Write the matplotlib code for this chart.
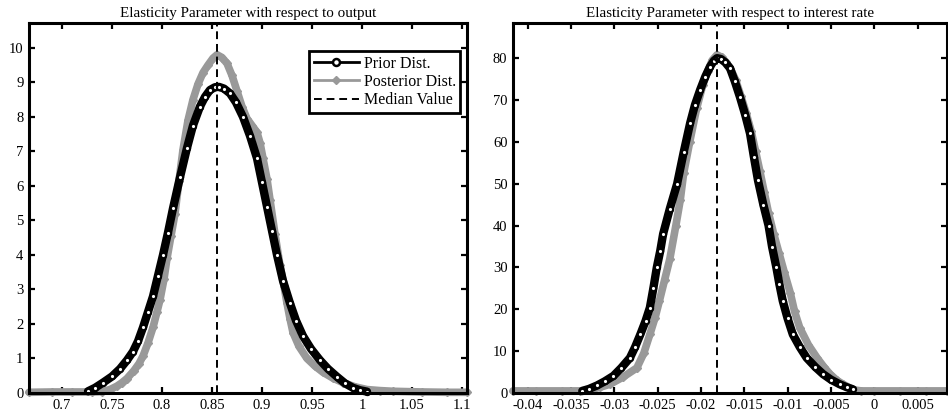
import matplotlib
matplotlib.use("Agg")
import matplotlib.pyplot as plt
from matplotlib.ticker import FixedLocator, FixedFormatter

plt.rcParams['font.family'] = ['Liberation Serif', 'DejaVu Serif']

# ---------------- data ----------------
titles = ["Elasticity Parameter with respect to output",
          "Elasticity Parameter with respect to interest rate"]

# Left panel: output elasticity
out_prior_x = [0.726, 0.733, 0.741, 0.750, 0.758, 0.765, 0.771, 0.776, 0.781, 0.786,
               0.791, 0.796, 0.801, 0.806, 0.811, 0.818, 0.825, 0.831, 0.838, 0.843,
               0.848, 0.853, 0.857, 0.862, 0.868, 0.874, 0.881, 0.888, 0.895, 0.900,
               0.905, 0.910, 0.915, 0.921, 0.928, 0.934, 0.941, 0.949, 0.958, 0.966,
               0.975, 0.983, 0.991, 0.998, 1.005]
out_prior_y = [0.05, 0.15, 0.30, 0.48, 0.70, 0.95, 1.20, 1.50, 1.90, 2.35,
               2.80, 3.40, 4.00, 4.65, 5.35, 6.25, 7.10, 7.75, 8.30, 8.58,
               8.78, 8.86, 8.87, 8.82, 8.68, 8.42, 8.00, 7.45, 6.80, 6.10,
               5.40, 4.70, 4.00, 3.25, 2.60, 2.10, 1.65, 1.28, 0.95, 0.70,
               0.47, 0.28, 0.15, 0.08, 0.04]

out_post_x = [0.667, 0.690, 0.710, 0.730, 0.740, 0.748, 0.755, 0.760, 0.765, 0.772,
              0.777, 0.781, 0.786, 0.791, 0.795, 0.798, 0.802, 0.805, 0.809, 0.813,
              0.817, 0.821, 0.826, 0.831, 0.836, 0.841, 0.846, 0.851, 0.855, 0.860,
              0.865, 0.870, 0.875, 0.880, 0.885, 0.890, 0.895, 0.898, 0.901, 0.905,
              0.908, 0.913, 0.918, 0.922, 0.925, 0.928, 0.931, 0.937, 0.945, 0.953,
              0.961, 0.971, 0.981, 0.993, 1.005, 1.018, 1.031, 1.060, 1.085, 1.105]
out_post_y = [0.02, 0.03, 0.03, 0.03, 0.04, 0.10, 0.20, 0.30, 0.42, 0.65,
              0.85, 1.07, 1.45, 1.90, 2.35, 2.70, 3.30, 3.90, 4.55, 5.20,
              6.15, 7.05, 7.90, 8.50, 8.95, 9.28, 9.50, 9.70, 9.80, 9.72,
              9.55, 9.20, 8.75, 8.30, 7.95, 7.75, 7.55, 7.25, 6.80, 6.20,
              5.60, 4.60, 3.70, 3.10, 2.60, 2.15, 1.75, 1.35, 1.00, 0.78,
              0.60, 0.43, 0.30, 0.18, 0.10, 0.07, 0.05, 0.03, 0.02, 0.02]
out_median = 0.855

# Right panel: interest rate elasticity
ir_prior_x = [-0.0337, -0.0329, -0.0320, -0.0311, -0.0301, -0.0292, -0.0282, -0.0276,
              -0.0270, -0.0264, -0.0259, -0.0255, -0.0251, -0.0247, -0.02437, -0.0236,
              -0.02275, -0.0220, -0.02125, -0.0207, -0.0201, -0.0195, -0.01895, -0.0185,
              -0.01815, -0.0177, -0.0172, -0.01665, -0.0161, -0.0155, -0.0149, -0.01434,
              -0.0139, -0.01342, -0.0128, -0.0122, -0.0118, -0.0113, -0.01095, -0.01056,
              -0.0100, -0.0094, -0.0086, -0.0078, -0.0068, -0.0059, -0.0050, -0.0040,
              -0.0032, -0.0025]
ir_prior_y = [0.5, 1.0, 1.8, 2.8, 4.1, 6.0, 8.4, 11.0,
              14.0, 17.2, 20.4, 25.0, 30.0, 34.0, 38.0, 44.0,
              50.0, 57.5, 64.5, 68.8, 72.4, 75.6, 78.0, 79.4,
              80.0, 79.8, 79.0, 77.6, 74.5, 70.7, 66.5, 62.0,
              56.5, 50.8, 45.0, 40.0, 35.0, 30.0, 26.0, 22.0,
              17.8, 14.0, 11.0, 8.4, 6.2, 4.5, 3.2, 2.1,
              1.4, 0.9]

ir_post_x = [-0.0417, -0.0390, -0.0360, -0.0340, -0.0327, -0.0316, -0.0305, -0.0290,
             -0.0274, -0.0266, -0.0259, -0.0253, -0.0248, -0.0242, -0.0236, -0.0229,
             -0.0224, -0.0220, -0.0213, -0.0205, -0.0198, -0.0192, -0.0187, -0.01815,
             -0.0176, -0.0171, -0.0166, -0.0160, -0.0154, -0.0148, -0.0142, -0.0137,
             -0.0132, -0.0127, -0.0122, -0.0116, -0.0110, -0.0104, -0.0097, -0.0092,
             -0.0086, -0.0076, -0.0066, -0.0058, -0.0051, -0.0043, -0.0036, -0.0029,
             -0.0022, -0.0015, 0.0000, 0.0030, 0.0060, 0.0084]
ir_post_y = [0.5, 0.5, 0.5, 0.5, 0.8, 1.4, 2.1, 3.8,
             6.0, 9.5, 14.0, 18.0, 22.0, 27.0, 32.0, 40.0,
             46.0, 52.5, 60.0, 68.0, 73.5, 77.0, 79.5, 80.8,
             80.2, 79.0, 77.5, 74.8, 71.0, 67.0, 62.5, 57.8,
             53.0, 48.0, 43.0, 38.0, 33.5, 29.0, 24.0, 19.5,
             15.6, 11.5, 8.4, 6.2, 4.5, 3.0, 2.1, 1.3,
             0.7, 0.5, 0.5, 0.5, 0.5, 0.5]
ir_median = -0.0181

out_xticks = [0.7, 0.75, 0.8, 0.85, 0.9, 0.95, 1.0, 1.05, 1.1]
out_xlabels = ["0.7", "0.75", "0.8", "0.85", "0.9", "0.95", "1", "1.05", "1.1"]
out_yticks = [0, 1, 2, 3, 4, 5, 6, 7, 8, 9, 10]
out_ylabels = ["0", "1", "2", "3", "4", "5", "6", "7", "8", "9", "10"]

ir_xticks = [-0.04, -0.035, -0.03, -0.025, -0.02, -0.015, -0.01, -0.005, 0.0, 0.005]
ir_xlabels = ["-0.04", "-0.035", "-0.03", "-0.025", "-0.02", "-0.015",
              "-0.01", "-0.005", "0", "0.005"]
ir_yticks = [0, 10, 20, 30, 40, 50, 60, 70, 80]
ir_ylabels = ["0", "10", "20", "30", "40", "50", "60", "70", "80"]

legend_labels = ["Prior Dist.", "Posterior Dist.", "Median Value"]

# ---------------- figure ----------------
W, H = 948, 419
fig = plt.figure(figsize=(W / 100, H / 100), dpi=100)

def px_axes(x0, x1, ytop, ybot):
    return fig.add_axes([x0 / W, (H - ybot) / H, (x1 - x0) / W, (ybot - ytop) / H])

ax1 = px_axes(29, 467, 23, 393)
ax2 = px_axes(513, 947, 23, 393)

GRAY = '#999999'
FS = 10.5

def draw(ax, px, py, qx, qy, med, xlim, ylim, xt, xl, yt, yl, title, legend=False):
    ax.plot(qx, qy, color=GRAY, lw=5.5, marker='D', ms=4.5, mfc=GRAY,
            mec=GRAY, clip_on=False, zorder=2, solid_joinstyle='round',
            solid_capstyle='round')
    ax.plot(px, py, color='black', lw=6, marker='o', ms=3.8, mfc='white',
            mec='black', mew=1.5, clip_on=False, zorder=3,
            solid_joinstyle='round', solid_capstyle='round')
    ax.axvline(med, color='black', lw=1.4, ls=(0, (4, 2.5)), zorder=4)
    ax.set_xlim(*xlim)
    ax.set_ylim(*ylim)
    ax.xaxis.set_major_locator(FixedLocator(xt))
    ax.xaxis.set_major_formatter(FixedFormatter(xl))
    ax.yaxis.set_major_locator(FixedLocator(yt))
    ax.yaxis.set_major_formatter(FixedFormatter(yl))
    ax.tick_params(direction='in', top=True, right=True, length=4, width=1.6,
                   labelsize=FS, pad=4)
    for s in ax.spines.values():
        s.set_linewidth(2.2)
        s.set_zorder(5)
    ax.set_title(title, fontsize=10.8, pad=4)
    if legend:
        lp, = ax.plot([], [], color='black', lw=2, marker='o', ms=5, mfc='white',
                      mec='black', mew=1.8)
        lq, = ax.plot([], [], color=GRAY, lw=2, marker='D', ms=4.5, mfc=GRAY, mec=GRAY)
        lm, = ax.plot([], [], color='black', lw=1.4, ls=(0, (4, 2.5)))
        leg = ax.legend([lp, lq, lm], legend_labels, loc='upper right',
                        bbox_to_anchor=(0.985, 0.925), fontsize=11.5, frameon=True,
                        fancybox=False, edgecolor='black', framealpha=1,
                        handlelength=2.8, handletextpad=0.3, borderpad=0.3,
                        labelspacing=0.15, borderaxespad=0)
        leg.get_frame().set_linewidth(2.0)

draw(ax1, out_prior_x, out_prior_y, out_post_x, out_post_y, out_median,
     (0.667, 1.105), (0, 10.72), out_xticks, out_xlabels, out_yticks, out_ylabels,
     titles[0], legend=True)
draw(ax2, ir_prior_x, ir_prior_y, ir_post_x, ir_post_y, ir_median,
     (-0.0417, 0.0084), (0, 88.4), ir_xticks, ir_xlabels, ir_yticks, ir_ylabels,
     titles[1])

fig.savefig("out.png", dpi=100)
